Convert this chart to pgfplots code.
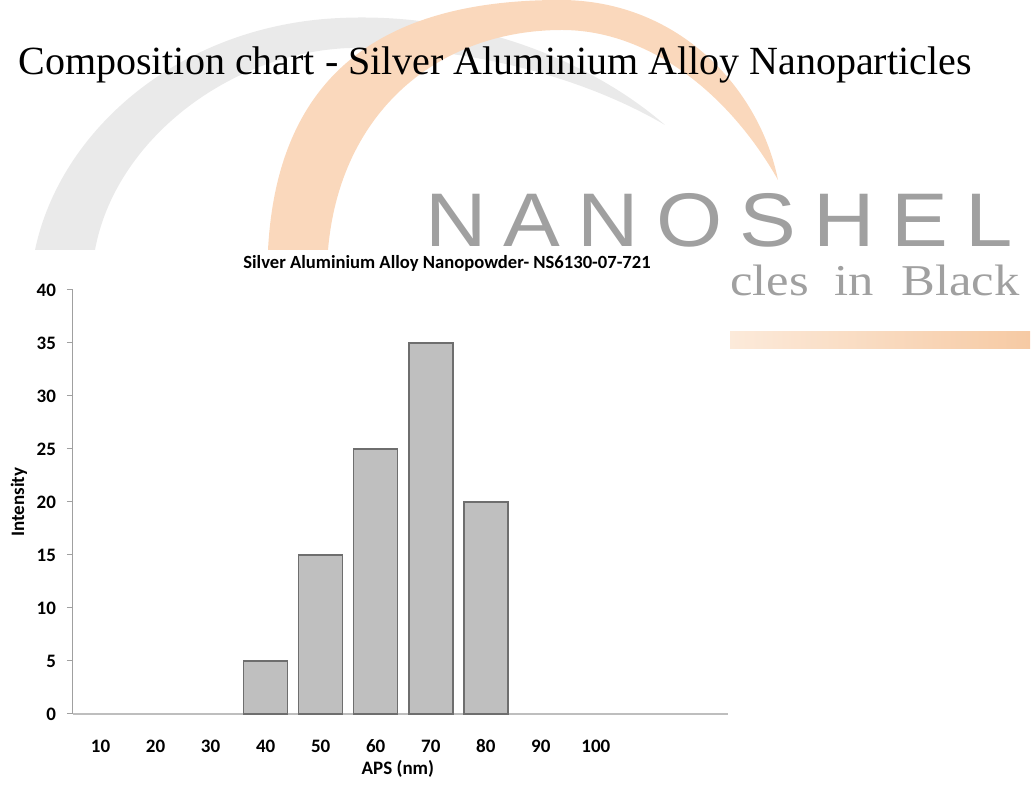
\documentclass[border=0pt]{standalone}
\usepackage{graphicx}
\usepackage{pgfplots}
\pgfplotsset{compat=1.18}
\usepackage{fontspec}
\setmainfont{Liberation Serif}
\newfontfamily\calibri{Carlito}
\newfontfamily\wmsans{Liberation Sans}
\definecolor{barfill}{RGB}{191,191,191}
\definecolor{baredge}{RGB}{110,110,110}
\definecolor{wmgray}{RGB}{160,160,160}
\definecolor{arcgray}{RGB}{234,234,234}
\definecolor{arcorange}{RGB}{250,216,188}
\definecolor{barorangeL}{RGB}{252,234,218}
\definecolor{barorangeR}{RGB}{246,202,164}
\definecolor{axisgray}{RGB}{190,190,190}
\definecolor{yaxisgray}{RGB}{160,160,160}

\begin{document}
\begin{tikzpicture}
\useasboundingbox (0,0) rectangle (517.5pt,393.5pt);
\clip (0,0) rectangle (517.5pt,393.5pt);
\begin{scope}[x=0.5pt,y=-0.5pt,shift={(0,393.5pt)}]
  % watermark arcs
  \fill[arcgray] (35,250) .. controls (60,130) and (180,25) .. (340,18)
     .. controls (470,12) and (590,60) .. (665,125)
     .. controls (580,75) and (460,45) .. (350,48)
     .. controls (230,52) and (115,140) .. (95,250) -- cycle;
  \fill[arcorange] (268,250) .. controls (278,60) and (400,0) .. (560,0)
     .. controls (680,0) and (760,90) .. (778,180)
     .. controls (730,95) and (650,30) .. (562,30)
     .. controls (440,30) and (340,110) .. (328,250) -- cycle;
  % watermark text
  \node[anchor=base west, inner sep=0, text=wmgray,
        font=\wmsans\fontsize{38}{38}\selectfont\addfontfeature{LetterSpace=20}]
        at (425,247) {\scalebox{1.12}[1]{NANOSHEL}};
  \node[anchor=base west, inner sep=0, text=wmgray,
        font=\fontsize{22}{22}\selectfont] at (730,296)
        {\scalebox{1.15}[1]{cles\hspace{0.25em} in\hspace{0.3em} Black}};
  \shade[left color=barorangeL, right color=barorangeR] (730,332) rectangle (1030,349);
  % white chart background
  \fill[white] (0,252) rectangle (729,787);
  % main title
  \node[anchor=west, inner sep=0, font=\fontsize{20}{20}\selectfont]
        at (18,65) {Composition chart - Silver Aluminium Alloy Nanoparticles};
\end{scope}

\begin{axis}[
  at={(36.5pt,36.5pt)}, anchor=south west, scale only axis,
  width=327.5pt, height=212pt,
  xmin=-0.5, xmax=11.4, ymin=0, ymax=40,
  axis x line*=bottom, axis y line*=left,
  x axis line style={draw=axisgray, line width=1pt},
  y axis line style={draw=yaxisgray, line width=0.5pt},
  xtick={0,1,2,3,4,5,6,7,8,9},
  xticklabels={10,20,30,40,50,60,70,80,90,100},
  ytick={0,5,10,15,20,25,30,35,40},
  xtick style={draw=none},
  ytick style={draw=yaxisgray, line width=0.5pt},
  tick align=outside, major tick length=3pt,
  /pgf/number format/assume math mode=true,
  every tick label/.append style={font=\calibri\bfseries\fontsize{9.5}{10}\selectfont},
  xticklabel style={text height=6.2pt, text depth=0pt, yshift=-6.5pt},
  yticklabel style={xshift=-2pt},
  title={Silver Aluminium Alloy Nanopowder- NS6130-07-721},
  title style={at={(axis description cs:0.571,1.0354)}, anchor=center, yshift=0pt,
               inner sep=0pt,
               font=\calibri\bfseries\fontsize{9.3}{10}\selectfont},
  xlabel={APS (nm)},
  xlabel style={at={(axis description cs:0.496,-0.13)}, anchor=center,
               font=\calibri\bfseries\fontsize{9.5}{10}\selectfont},
  ylabel={Intensity},
  ylabel style={at={(axis description cs:-0.0824,0.5)}, anchor=center, rotate=0,
               font=\calibri\bfseries\fontsize{9.5}{10}\selectfont},
  clip=false,
]
\addplot[ybar, bar width=22pt, fill=barfill, draw=baredge, line width=0.75pt]
  coordinates {(3,5) (4,15) (5,25) (6,35) (7,20)};
\end{axis}
\end{tikzpicture}
\end{document}
